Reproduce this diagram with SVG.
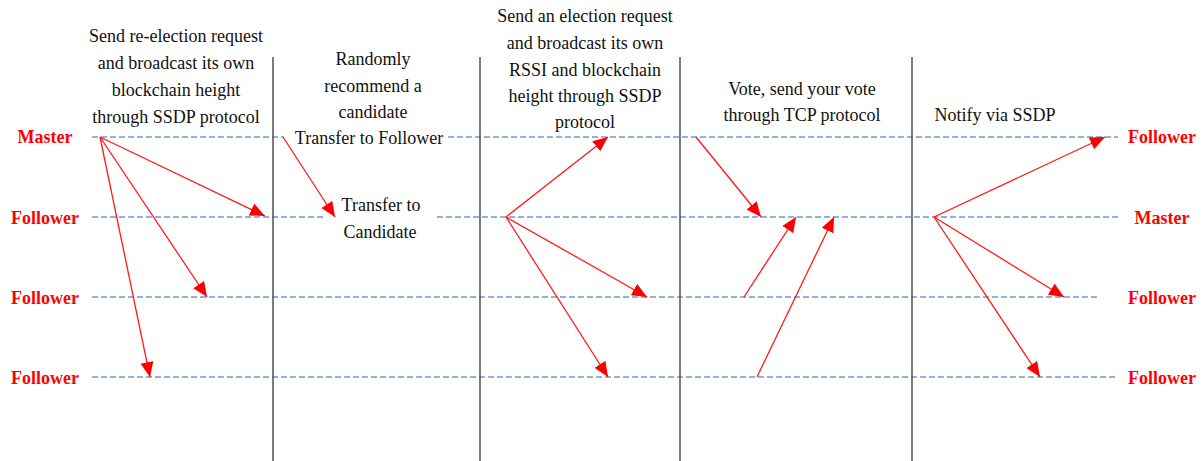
<svg xmlns="http://www.w3.org/2000/svg" width="1203" height="461" viewBox="0 0 1203 461">
  <style>
    .lane { stroke: #6f98d2; stroke-width: 1.3; stroke-dasharray: 6 3; fill: none; }
    .phase { stroke: #505050; stroke-width: 1.5; fill: none; }
    .msg { stroke: #ff1a1a; stroke-width: 1.3; fill: none; marker-end: url(#head); }
    .note { font-family: "Liberation Serif", "Times New Roman", serif; font-size: 18px; fill: #111; text-anchor: middle; }
    .role { font-family: "Liberation Serif", "Times New Roman", serif; font-size: 18px; font-weight: bold; fill: #ff0000; text-anchor: middle; }
  </style>
  <defs>
    <marker id="head" markerUnits="userSpaceOnUse" markerWidth="16" markerHeight="14" refX="15" refY="6.5" orient="auto">
      <path d="M0,0 L15,6.5 L0,13 Z" fill="#ff0000"/>
    </marker>
  </defs>
  <rect width="1203" height="461" fill="#ffffff"/>

  <!-- node lanes -->
  <g id="lanes">
    <line class="lane" x1="92" y1="137" x2="284" y2="137"/>
    <line class="lane" x1="448" y1="137" x2="1118" y2="137"/>
    <line class="lane" x1="92" y1="217" x2="323" y2="217"/>
    <line class="lane" x1="437" y1="217" x2="1118" y2="217"/>
    <line class="lane" x1="92" y1="297" x2="1098" y2="297"/>
    <line class="lane" x1="92" y1="377" x2="1118" y2="377"/>
  </g>

  <!-- phase separators -->
  <g id="phases">
    <line class="phase" x1="273" y1="57" x2="273" y2="461"/>
    <line class="phase" x1="480" y1="57" x2="480" y2="461"/>
    <line class="phase" x1="680" y1="57" x2="680" y2="461"/>
    <line class="phase" x1="912" y1="57" x2="912" y2="461"/>
  </g>

  <!-- role labels, left -->
  <g id="roles-before">
    <text class="role" x="45" y="143">Master</text>
    <text class="role" x="45" y="224">Follower</text>
    <text class="role" x="45" y="304">Follower</text>
    <text class="role" x="45" y="384">Follower</text>
  </g>

  <!-- role labels, right -->
  <g id="roles-after">
    <text class="role" x="1162" y="143">Follower</text>
    <text class="role" x="1162" y="224">Master</text>
    <text class="role" x="1162" y="304">Follower</text>
    <text class="role" x="1162" y="384">Follower</text>
  </g>

  <!-- phase descriptions -->
  <g id="phase1-note">
    <text class="note" x="176" y="42">Send re-election request</text>
    <text class="note" x="176" y="69">and broadcast its own</text>
    <text class="note" x="176" y="96">blockchain height</text>
    <text class="note" x="176" y="123">through SSDP protocol</text>
  </g>
  <g id="phase2-note">
    <text class="note" x="373" y="65">Randomly</text>
    <text class="note" x="373" y="92">recommend a</text>
    <text class="note" x="373" y="118">candidate</text>
    <text class="note" x="369" y="144">Transfer to Follower</text>
    <text class="note" x="381" y="211">Transfer to</text>
    <text class="note" x="380" y="238">Candidate</text>
  </g>
  <g id="phase3-note">
    <text class="note" x="585" y="22">Send an election request</text>
    <text class="note" x="585" y="49">and broadcast its own</text>
    <text class="note" x="585" y="76">RSSI and blockchain</text>
    <text class="note" x="585" y="102">height through SSDP</text>
    <text class="note" x="585" y="128">protocol</text>
  </g>
  <g id="phase4-note">
    <text class="note" x="802" y="95">Vote, send your vote</text>
    <text class="note" x="802" y="121">through TCP protocol</text>
  </g>
  <g id="phase5-note">
    <text class="note" x="995" y="121">Notify via SSDP</text>
  </g>

  <!-- messages -->
  <g id="connectors">
    <line class="msg" x1="100" y1="137" x2="265" y2="216"/>
    <line class="msg" x1="100" y1="137" x2="207" y2="297"/>
    <line class="msg" x1="100" y1="137" x2="150" y2="377"/>

    <line class="msg" x1="283" y1="137" x2="335" y2="217"/>

    <line class="msg" x1="506" y1="217" x2="608" y2="137"/>
    <line class="msg" x1="506" y1="217" x2="647" y2="297"/>
    <line class="msg" x1="506" y1="217" x2="608" y2="377"/>

    <line class="msg" x1="696" y1="137" x2="761" y2="217"/>
    <line class="msg" x1="744" y1="297" x2="796" y2="217"/>
    <line class="msg" x1="757" y1="377" x2="834" y2="217"/>

    <line class="msg" x1="934" y1="217" x2="1105" y2="137"/>
    <line class="msg" x1="934" y1="217" x2="1064" y2="297"/>
    <line class="msg" x1="934" y1="217" x2="1040" y2="377"/>
  </g>
</svg>
